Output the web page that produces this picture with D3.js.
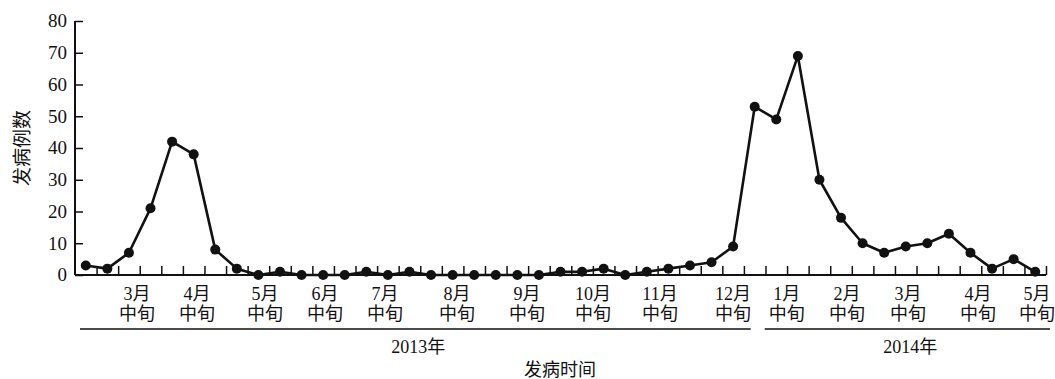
<!DOCTYPE html>
<html>
<head>
<meta charset="utf-8">
<script src="https://cdn.jsdelivr.net/npm/d3@7"></script>
<style>
  body { margin: 0; background: #fff; }
  text { font-family: "Liberation Serif", "Noto Sans CJK SC", serif; fill: #111; }
</style>
</head>
<body>
<div id="line-chart"></div>
<script>
// cases per ten-day period (旬), from late Feb 2013 to mid May 2014
const cases = [3, 2, 7, 21, 42, 38, 8, 2, 0, 1, 0, 0, 0, 1, 0, 1, 0, 0, 0, 0, 0, 0, 1, 1, 2, 0, 1, 2, 3, 4,
  9, 53, 49, 69, 30, 18, 10, 7, 9, 10, 13, 7, 2, 5, 1];

// month labels and where they sit (in period units)
const monthLabels = ["3月", "4月", "5月", "6月", "7月", "8月", "9月", "10月", "11月", "12月",
  "1月", "2月", "3月", "4月", "5月"];
const monthAt = [2.37, 5.15, 8.31, 11.09, 13.87, 17.2, 20.45, 23.51, 26.61, 29.99,
  32.49, 35.28, 38.1, 41.35, 44.08];

const years = ["2013年", "2014年"];
const yearSplit = 31; // first period of 2014

const yTicks = [0, 10, 20, 30, 40, 50, 60, 70, 80];

function draw() {
  const width = 1055;
  const height = 379;
  const margin = {top: 21, right: 9, bottom: 104, left: 75};

  const svg = d3.select("#line-chart")
    .append("svg")
    .attr("width", width)
    .attr("height", height);

  const xScale = d3.scaleLinear()
    .domain([-0.5, cases.length - 0.5])
    .range([margin.left, width - margin.right]);

  const yScale = d3.scaleLinear()
    .domain([0, 80])
    .range([height - margin.bottom, margin.top]);

  const y0 = yScale(0);

  // y axis, ticks pointing inward
  const yAxis = d3.axisRight(yScale).tickValues(yTicks).tickSize(8).tickFormat("");
  svg.append("g")
    .attr("transform", `translate(${margin.left}, 0)`)
    .call(yAxis)
    .call(g => g.select(".domain").attr("stroke", "#111").attr("stroke-width", 2).attr("d", `M0,${yScale(80)}V${y0}`))
    .call(g => g.selectAll(".tick line").attr("stroke", "#111").attr("stroke-width", 1.5));

  svg.append("g")
    .selectAll("text")
    .data(yTicks)
    .join("text")
    .attr("x", margin.left - 8)
    .attr("y", d => yScale(d))
    .attr("dy", "0.34em")
    .attr("text-anchor", "end")
    .attr("font-size", 19)
    .text(d => d);

  // x axis with a tick on every period boundary, pointing up
  const boundaries = d3.range(cases.length).map(i => i + 0.5);
  const xAxis = d3.axisTop(xScale).tickValues(boundaries).tickSize(9).tickFormat("");
  svg.append("g")
    .attr("transform", `translate(0, ${y0})`)
    .call(xAxis)
    .call(g => g.select(".domain").attr("stroke", "#111").attr("stroke-width", 2).attr("d", `M${margin.left},0H${xScale(cases.length - 0.5)}`))
    .call(g => g.selectAll(".tick line").attr("stroke", "#111").attr("stroke-width", 1.5));

  // month labels, two rows
  const labels = svg.append("g")
    .selectAll("g")
    .data(monthLabels)
    .join("g")
    .attr("transform", (d, i) => `translate(${xScale(monthAt[i])}, 0)`);

  labels.append("text")
    .attr("y", y0 + 25)
    .attr("text-anchor", "middle")
    .attr("font-size", 18)
    .text(d => d);

  labels.append("text")
    .attr("y", y0 + 45)
    .attr("text-anchor", "middle")
    .attr("font-size", 18)
    .text("中旬");

  // year brackets
  const splitX = xScale(yearSplit);
  const spans = [
    [margin.left + 5, splitX - 4],
    [splitX + 10, width - 5]
  ];
  const bracketY = y0 + 54;

  svg.append("g")
    .selectAll("line")
    .data(spans)
    .join("line")
    .attr("x1", d => d[0])
    .attr("x2", d => d[1])
    .attr("y1", bracketY)
    .attr("y2", bracketY)
    .attr("stroke", "#111")
    .attr("stroke-width", 1.5);

  svg.append("g")
    .selectAll("text")
    .data(years)
    .join("text")
    .attr("x", (d, i) => (spans[i][0] + spans[i][1]) / 2 + 3)
    .attr("y", bracketY + 24)
    .attr("text-anchor", "middle")
    .attr("font-size", 18)
    .text(d => d);

  // axis titles
  svg.append("text")
    .attr("x", 560)
    .attr("y", height - 3)
    .attr("text-anchor", "middle")
    .attr("font-size", 18)
    .text("发病时间");

  svg.append("text")
    .attr("transform", `translate(29, ${(yScale(80) + y0) / 2}) rotate(-90)`)
    .attr("text-anchor", "middle")
    .attr("font-size", 19)
    .text("发病例数");

  // the line and its markers
  const lineGenerator = d3.line()
    .x((d, i) => xScale(i))
    .y(d => yScale(d));

  svg.append("path")
    .datum(cases)
    .attr("d", lineGenerator)
    .attr("fill", "none")
    .attr("stroke", "#111")
    .attr("stroke-width", 2.6)
    .attr("stroke-linejoin", "round");

  svg.append("g")
    .selectAll("circle")
    .data(cases)
    .join("circle")
    .attr("cx", (d, i) => xScale(i))
    .attr("cy", d => yScale(d))
    .attr("r", 5)
    .attr("fill", "#111");
}

draw();
</script>
</body>
</html>
